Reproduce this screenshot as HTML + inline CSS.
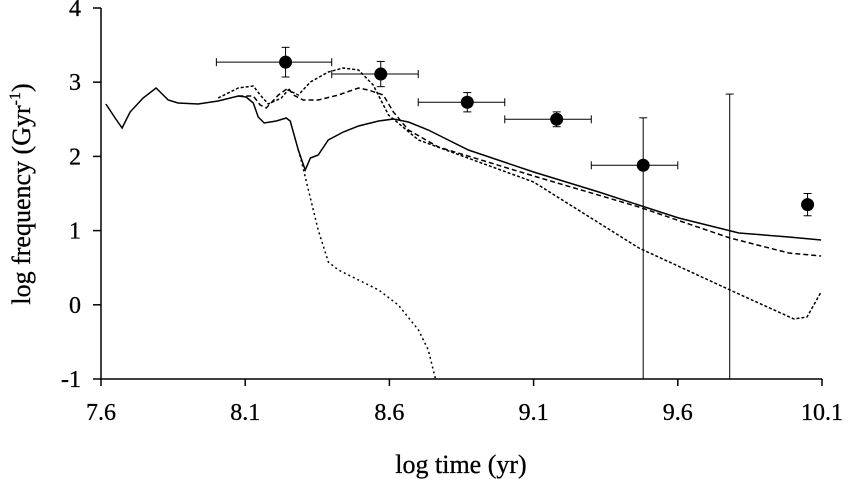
<!DOCTYPE html>
<html><head><meta charset="utf-8"><style>
body{margin:0;background:#fff}
svg text{font-family:"Liberation Serif",serif;fill:#000}
</style></head><body>
<svg id="chart" width="849" height="494" viewBox="0 0 849 494" xmlns="http://www.w3.org/2000/svg">
<g id="axes"></g>
<g id="series"></g>
<g id="points"></g>
<text x="461" y="473" font-size="26" text-anchor="middle" stroke="#000" stroke-width="0.3">log time (yr)</text>
<text transform="translate(30,194) rotate(-90)" font-size="26" text-anchor="middle" stroke="#000" stroke-width="0.3">log frequency (Gyr<tspan dy="-10" font-size="16">-1</tspan><tspan dy="10">)</tspan></text>
</svg>
<script>
const xTicks=[7.6,8.1,8.6,9.1,9.6,10.1];
const yTicks=[-1,0,1,2,3,4];
const solidX=[7.617,7.649,7.673,7.701,7.746,7.791,7.833,7.867,7.937,8.006,8.076,8.103,8.128,8.145,8.166,8.208,8.242,8.256,8.284,8.308,8.326,8.353,8.388,8.440,8.493,8.563,8.614,8.666,8.735,8.874,9.100,9.326,9.603,9.812,9.985,10.097];
const solidY=[2.706,2.518,2.383,2.598,2.787,2.922,2.760,2.720,2.706,2.747,2.814,2.801,2.720,2.531,2.450,2.477,2.518,2.477,2.086,1.817,1.978,2.019,2.221,2.329,2.410,2.477,2.504,2.464,2.356,2.086,1.790,1.520,1.170,0.968,0.914,0.873];
const dashX=[8.076,8.128,8.152,8.173,8.215,8.249,8.267,8.301,8.353,8.423,8.493,8.527,8.579,8.614,8.666,8.770,9.100,9.465,9.781,9.985,10.097];
const dashY=[2.814,2.814,2.693,2.652,2.827,2.922,2.827,2.760,2.760,2.827,2.922,2.895,2.827,2.598,2.356,2.127,1.736,1.318,0.900,0.698,0.658];
const dotDashX=[8.006,8.076,8.128,8.152,8.180,8.225,8.249,8.284,8.326,8.388,8.440,8.493,8.544,8.597,8.701,9.100,9.465,9.781,10.003,10.048,10.097];
const dotDashY=[2.787,2.922,2.949,2.827,2.706,2.787,2.895,2.827,3.003,3.137,3.191,3.164,2.962,2.558,2.221,1.655,0.765,0.200,-0.191,-0.164,0.173];
const fallX=[8.284,8.294,8.319,8.353,8.388,8.423,8.493,8.563,8.631,8.701,8.735,8.760];
const fallY=[2.086,1.951,1.547,1.008,0.577,0.469,0.334,0.199,-0.003,-0.340,-0.609,-1.0];
const ptX=[8.24,8.57,8.87,9.18,9.48,9.78,10.05];
const ptY=[3.27,3.11,2.73,2.50,1.88,null,1.35];
const ptXlo=[8.0,8.4,8.7,9.0,9.3,null,null];
const ptXhi=[8.4,8.7,9.0,9.3,9.6,null,null];
const ptYlo=[3.07,2.94,2.60,2.40,-1,-1,1.20];
const ptYhi=[3.47,3.28,2.86,2.60,2.52,2.84,1.50];
const NS='http://www.w3.org/2000/svg';
const X=v=>101+(v-7.6)/2.5*721, Y=v=>8+(4-v)/5*371;
function mk(t,a,p){const e=document.createElementNS(NS,t);for(const k in a)e.setAttribute(k,a[k]);p.appendChild(e);return e;}
const ax=document.getElementById('axes');
let e=mk('line',{x1:X(7.6),y1:Y(4),x2:X(7.6),y2:Y(-1),stroke:'#000','stroke-width':1.5},ax);

e=mk('line',{x1:X(7.6),y1:Y(-1),x2:X(10.1),y2:Y(-1),stroke:'#000','stroke-width':1.5},ax);

xTicks.forEach(t=>{let l=mk('line',{x1:X(t),y1:Y(-1),x2:X(t),y2:Y(-1)+7,stroke:'#000','stroke-width':1.5},ax);

let s=mk('text',{x:X(t),y:420,'font-size':24,'text-anchor':'middle',stroke:'#000','stroke-width':0.3},ax);s.textContent=t.toFixed(1);
});
yTicks.forEach(t=>{let l=mk('line',{x1:X(7.6)-8,y1:Y(t),x2:X(7.6),y2:Y(t),stroke:'#000','stroke-width':1.5},ax);

let s=mk('text',{x:81,y:Y(t)+8,'font-size':24,'text-anchor':'end',stroke:'#000','stroke-width':0.3},ax);s.textContent=String(t);
});
const sg=document.getElementById('series');
function line(xs,ys,dash,name){const d=xs.map((x,i)=>(i?'L':'M')+X(x).toFixed(1)+','+Y(ys[i]).toFixed(1)).join('');
const p=mk('path',{d:d,fill:'none',stroke:'#000','stroke-width':1.5},sg);if(dash)p.setAttribute('stroke-dasharray',dash);
}
line(solidX,solidY,null,'solid-line');
line(dashX,dashY,'5,3','dashed-line');
line(dotDashX,dotDashY,'3,2','dotted-dash-line');
line(fallX,fallY,'2,3','falling-dotted-line');
const pg=document.getElementById('points');
ptX.forEach((x,i)=>{
 if(ptXlo[i]!==null){let h=mk('line',{x1:X(ptXlo[i]),y1:Y(ptY[i]),x2:X(ptXhi[i]),y2:Y(ptY[i]),stroke:'#000','stroke-width':1},pg);
 
 [ptXlo[i],ptXhi[i]].forEach(v=>{let c=mk('line',{x1:X(v),y1:Y(ptY[i])-4,x2:X(v),y2:Y(ptY[i])+4,stroke:'#000','stroke-width':1},pg);
 });}
 let v=mk('line',{x1:X(x),y1:Y(ptYhi[i]),x2:X(x),y2:Y(ptYlo[i]),stroke:'#000','stroke-width':1},pg);
 
 [ptYhi[i],ptYlo[i]].forEach(w=>{if(w>-1){let c=mk('line',{x1:X(x)-4,y1:Y(w),x2:X(x)+4,y2:Y(w),stroke:'#000','stroke-width':1},pg);
 }});
 if(ptY[i]!==null){let c=mk('circle',{cx:X(x),cy:Y(ptY[i]),r:6.5,fill:'#000'},pg);
 }
});
</script>
</body></html>
